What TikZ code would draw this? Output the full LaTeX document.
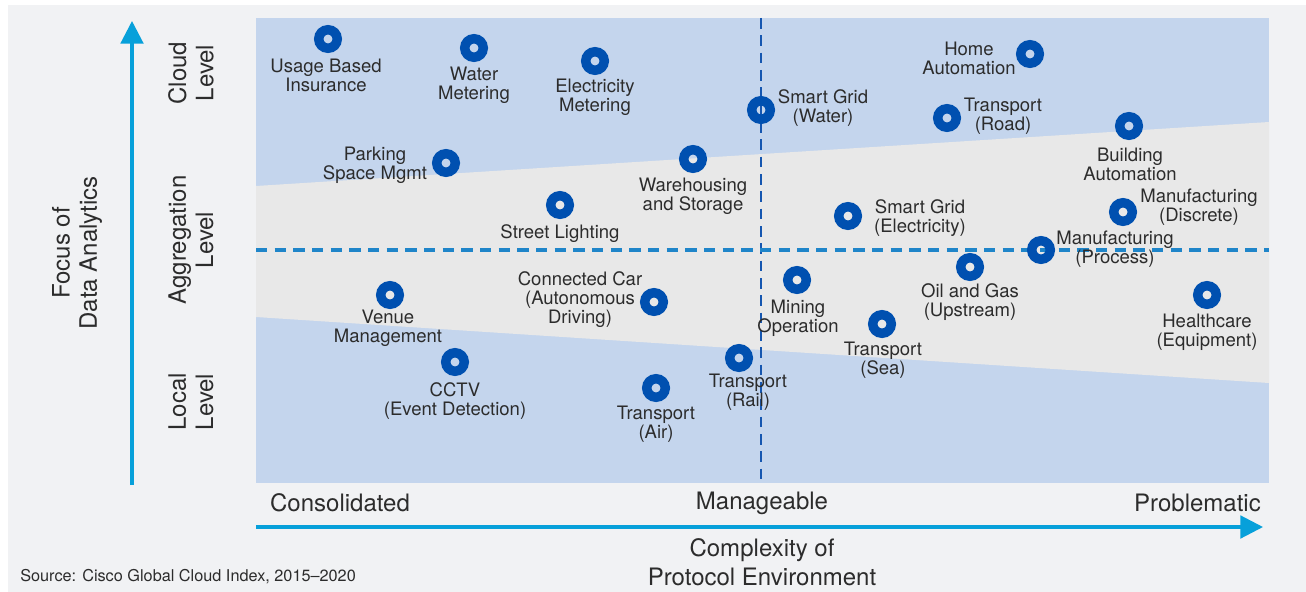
\documentclass[tikz,border=0pt]{standalone}
\usepackage{fontspec}
\setmainfont{TeX Gyre Heros}
\usetikzlibrary{arrows.meta}
\definecolor{bgc}{HTML}{F1F2F4}
\definecolor{bandblue}{HTML}{C4D5ED}
\definecolor{bandgrey}{HTML}{E8E8E8}
\definecolor{markc}{HTML}{0050B0}
\definecolor{vdashc}{HTML}{1556B0}
\definecolor{hdashc}{HTML}{1F85C9}
\definecolor{axisc}{HTML}{07A0DA}
\definecolor{txtc}{HTML}{2C2C2C}
\tikzset{
  marker/.style={circle, draw=markc, line width=7.1pt, minimum size=13.9pt, inner sep=0pt},
  lbl/.style={align=center, text=txtc, inner sep=0pt, font=\fontsize{13.9}{14.25}\selectfont},
  biglbl/.style={align=center, text=txtc, inner sep=0pt, font=\fontsize{18}{20.5}\selectfont},
  axisarrow/.style={draw=axisc, line width=2.3pt, -{Triangle[length=17pt,width=17pt]}},
  hdash/.style={draw=hdashc, line width=2.3pt, dash pattern=on 8.5pt off 5.5pt},
  vdash/.style={draw=vdashc, line width=2pt, dash pattern=on 8pt off 5pt},
}
\begin{document}
\begin{tikzpicture}[x=0.75pt,y=-0.75pt]
\useasboundingbox (0,0) rectangle (1306,592);
\fill[white] (0,0) rectangle (1306,592);
\fill[bgc] (8,5) rectangle (1306,592);
% plot area
\fill[bandblue] (256,18) rectangle (1269,483);
\fill[bandgrey] (256,186) -- (1269,122) -- (1269,383) -- (256,317) -- cycle;
% dashed quadrant lines
\coordinate (vt) at (761,18);
\coordinate (vb) at (761,483);
\coordinate (hl) at (256,250);
\coordinate (hr) at (1269,250);
\draw[vdash] (vt) -- (vb);
\draw[hdash] (hl) -- (hr);
% axes
\coordinate (ya) at (132,485);
\coordinate (yb) at (132,21);
\coordinate (xa) at (256,527);
\coordinate (xb) at (1263,527);
\draw[axisarrow] (ya) -- (yb);
\draw[axisarrow] (xa) -- (xb);
% axis labels
\node[biglbl] (cons) at (340,503) {Consolidated};
\node[biglbl] (mana) at (762,503) {Manageable};
\node[biglbl, anchor=east] (prob) at (1261,503) {Problematic};
\node[biglbl, font=\fontsize{18}{22}\selectfont] (xlab) at (762,562) {Complexity of\\Protocol Environment};
\node[biglbl, rotate=90] (ylab) at (77,253) {Focus of\\Data Analytics};
\node[biglbl, rotate=90] (cloud) at (191,73) {Cloud\\Level};
\node[biglbl, rotate=90] (aggr) at (191,240) {Aggregation\\Level};
\node[biglbl, rotate=90] (local) at (191,402) {Local\\Level};
\node[anchor=west, text=txtc, inner sep=0pt, font=\fontsize{12.2}{13}\selectfont] (src) at (20,577) {Source: Cisco Global Cloud Index, 2015–2020};
% markers and labels
\node[marker] (m1) at (328,39) {};   \node[lbl] (l1) at (326,75) {Usage Based\\Insurance};
\node[marker] (m2) at (474,48) {};   \node[lbl] (l2) at (474,85) {Water\\Metering};
\node[marker] (m3) at (595,61) {};   \node[lbl] (l3) at (595,97) {Electricity\\Metering};
\node[marker] (m4) at (1030,54) {};  \node[lbl] (l4) at (969,58) {Home\\Automation};
\node[marker] (m5) at (761,110) {};  \node[lbl] (l5) at (823,108) {Smart Grid\\(Water)};
\node[marker] (m6) at (947,118) {};  \node[lbl] (l6) at (1003,116) {Transport\\(Road)};
\node[marker] (m7) at (1129,126) {}; \node[lbl] (l7) at (1130,164) {Building\\Automation};
\node[marker] (m8) at (446,163) {};  \node[lbl] (l8) at (375,165) {Parking\\Space Mgmt};
\node[marker] (m9) at (693,159) {};  \node[lbl] (l9) at (693,196) {Warehousing\\and Storage};
\node[marker] (m10) at (560,205) {}; \node[lbl] (l10) at (560,234) {Street Lighting};
\node[marker] (m11) at (848,216) {}; \node[lbl] (l11) at (920,218) {Smart Grid\\(Electricity)};
\node[marker] (m12) at (1123,212) {};\node[lbl] (l12) at (1199,207) {Manufacturing\\(Discrete)};
\node[marker] (m13) at (1041,250) {};\node[lbl] (l13) at (1115,249) {Manufacturing\\(Process)};
\node[marker] (m14) at (970,267) {}; \node[lbl] (l14) at (970,302) {Oil and Gas\\(Upstream)};
\node[marker] (m15) at (1207,295) {};\node[lbl] (l15) at (1207,332) {Healthcare\\(Equipment)};
\node[marker] (m16) at (797,280) {}; \node[lbl] (l16) at (798,318) {Mining\\Operation};
\node[marker] (m17) at (654,302) {}; \node[lbl] (l17) at (580,300) {Connected Car\\(Autonomous\\Driving)};
\node[marker] (m18) at (390,295) {}; \node[lbl] (l18) at (388,328) {Venue\\Management};
\node[marker] (m19) at (882,324) {}; \node[lbl] (l19) at (883,360) {Transport\\(Sea)};
\node[marker] (m20) at (455,362) {}; \node[lbl] (l20) at (455,401) {CCTV\\(Event Detection)};
\node[marker] (m21) at (739,358) {}; \node[lbl] (l21) at (748,392) {Transport\\(Rail)};
\node[marker] (m22) at (656,388) {}; \node[lbl] (l22) at (656,424) {Transport\\(Air)};
\end{tikzpicture}
\end{document}
